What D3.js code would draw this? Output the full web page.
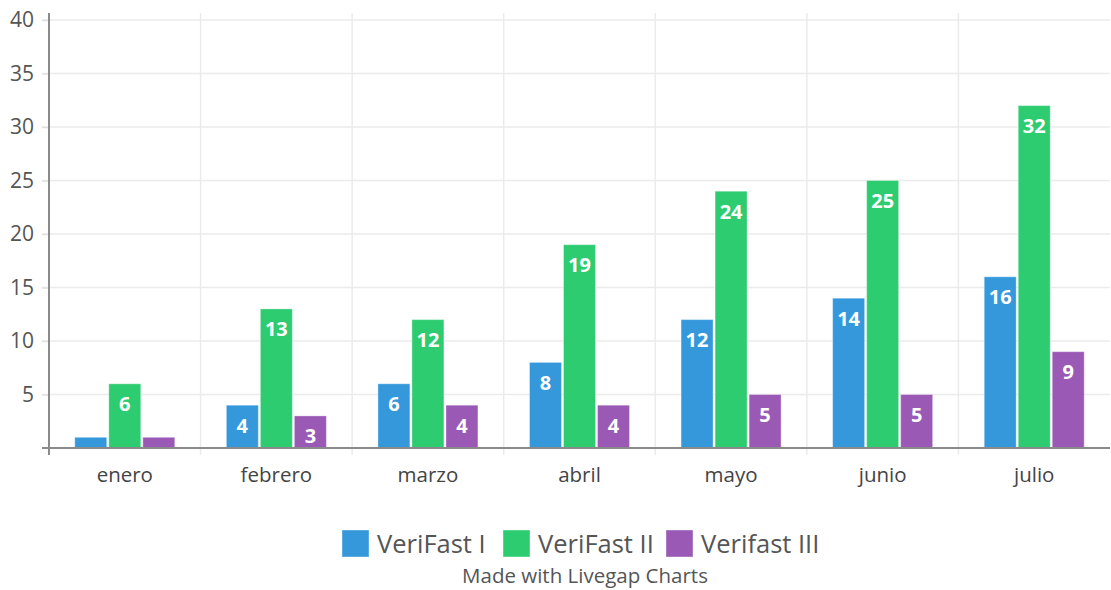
<!DOCTYPE html>
<html><head><meta charset="utf-8">
<script src="https://cdn.jsdelivr.net/npm/d3@7"></script>
<style>html,body{margin:0;padding:0;background:#fff;}svg{display:block;font-family:"Open Sans",sans-serif;}</style>
</head><body>
<svg id="c" width="1111" height="590"></svg>
<script>
const categories = ["enero","febrero","marzo","abril","mayo","junio","julio"];
const seriesNames = ["VeriFast I","VeriFast II","Verifast III"];
const seriesColors = ["#3498db","#2ecc71","#9b59b6"];
const verifast1 = [1,4,6,8,12,14,16];
const verifast2 = [6,13,12,19,24,25,32];
const verifast3 = [1,3,4,4,5,5,9];
const yTicks = [5,10,15,20,25,30,35,40];

const series = [verifast1, verifast2, verifast3];
const svg = d3.select("#c");
const L = 49, R = 1110, T = 20, B = 448;
const x = d3.scaleBand().domain(categories).range([L,R]).paddingInner(0).paddingOuter(0);
const bw = x.bandwidth();
const x1 = d3.scaleBand().domain(d3.range(series.length)).range([bw/2-50, bw/2+50]).paddingInner(0.06).paddingOuter(0);
const y = d3.scaleLinear().domain([0,40]).range([B,T]);

// gridlines horizontal
svg.append("g").selectAll("line").data(yTicks).join("line")
  .attr("x1",42).attr("x2",R).attr("y1",d=>y(d)).attr("y2",d=>y(d))
  .attr("stroke",d=>"#ebebeb").attr("stroke-width",1.5);
// vertical gridlines
svg.append("g").selectAll("line").data(categories.slice(1)).join("line")
  .attr("x1",d=>x(d)).attr("x2",d=>x(d)).attr("y1",13).attr("y2",455)
  .attr("stroke","#ebebeb").attr("stroke-width",1.5);

// y axis labels
const yAxis = d3.axisLeft(y).tickValues(yTicks).tickSize(7).tickPadding(8);
const gy = svg.append("g").attr("transform",`translate(${L},0)`).call(yAxis);
gy.select(".domain").remove();
gy.selectAll(".tick line").attr("stroke","#e0e0e0").attr("stroke-width",1.5);
gy.selectAll(".tick text").attr("fill","#555").style("font-size","21px").style("font-family","Open Sans");

// bars
const clipId = "plotclip";
svg.append("clipPath").attr("id",clipId).append("rect").attr("x",L).attr("y",0).attr("width",R-L).attr("height",B);
const groups = svg.append("g").attr("clip-path",`url(#${clipId})`).selectAll("g").data(categories).join("g")
  .attr("transform",d=>`translate(${x(d)},0)`);
groups.each(function(cat, ci){
  const g = d3.select(this);
  series.forEach((s, si)=>{
    const v = s[ci];
    g.append("rect").attr("x",x1(si)).attr("width",x1.bandwidth())
      .attr("y",y(v)).attr("height",B-y(v))
      .attr("fill",seriesColors[si]).attr("stroke","rgba(255,255,255,0.35)").attr("stroke-width",1);
    g.append("text").attr("x",x1(si)+x1.bandwidth()/2).attr("y",y(v)+20)
      .attr("text-anchor","middle").attr("dominant-baseline","central")
      .attr("fill","#fff").style("font-weight","700").style("font-size","20px")
      .text(v);
  });
});

// axes lines
svg.append("line").attr("x1",42).attr("x2",R).attr("y1",B).attr("y2",B).attr("stroke","#8a8a8a").attr("stroke-width",2);
svg.append("line").attr("x1",L).attr("x2",L).attr("y1",13).attr("y2",455).attr("stroke","#8a8a8a").attr("stroke-width",2);
const xAxis = d3.axisBottom(x).tickSize(0).tickPadding(19);
const gx = svg.append("g").attr("transform",`translate(0,${B})`).call(xAxis);
gx.select(".domain").remove();
gx.selectAll(".tick text").attr("fill","#444").style("font-size","20.5px").style("font-family","Open Sans");

// legend
const legendX = [342, 503, 666];
const lg = svg.append("g");
seriesNames.forEach((n,i)=>{
  lg.append("rect").attr("x",legendX[i]).attr("y",530).attr("width",27).attr("height",27).attr("fill",seriesColors[i]).attr("stroke","rgba(255,255,255,0.4)");
  lg.append("text").attr("x",legendX[i]+35).attr("y",543).attr("dominant-baseline","central")
    .attr("fill","#555").style("font-size","25.5px").text(n);
});
svg.append("text").attr("x",585).attr("y",575).attr("text-anchor","middle").attr("dominant-baseline","central")
  .attr("fill","#555").style("font-size","20.5px").text("Made with Livegap Charts");
</script>
</body></html>
